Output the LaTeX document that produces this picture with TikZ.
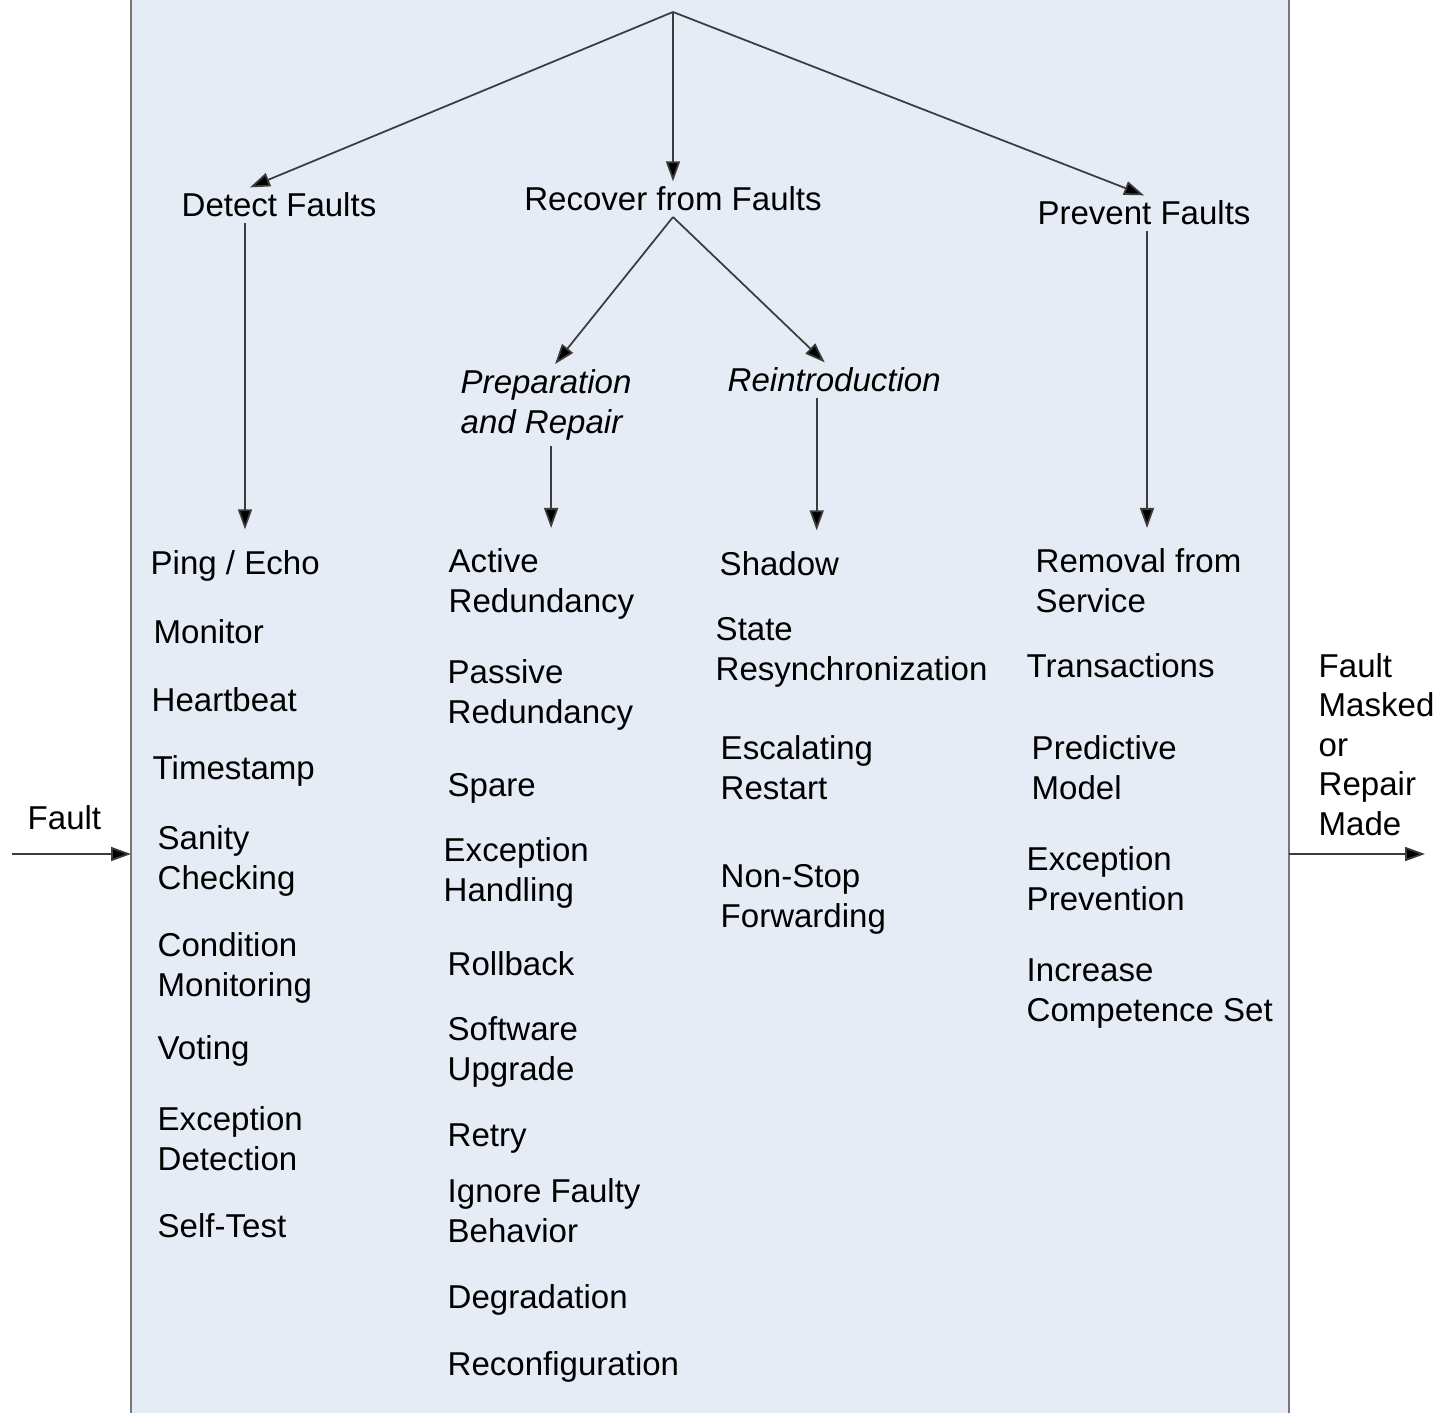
\documentclass[tikz,border=0pt]{standalone}
\usepackage{fontspec}
\setmainfont{Liberation Sans}
\usetikzlibrary{arrows.meta}

\definecolor{boxfill}{RGB}{230,236,245}
\definecolor{boxline}{RGB}{120,120,120}
\definecolor{linegray}{RGB}{60,60,60}

\tikzset{
    tactic/.style={anchor=base west, inner sep=0pt, align=left, font=\fontsize{9.4}{11.2}\selectfont},
    head/.style={anchor=base, inner sep=0.5mm, font=\fontsize{9.4}{11.2}\selectfont},
    subhead/.style={anchor=base west, inner sep=0.5mm, align=left, font=\fontsize{9.4}{11.2}\selectfont\itshape},
    tip/.style={draw=linegray, line width=0.5pt, -{Triangle[length=2mm,width=1.4mm,fill=black]}},
}

\begin{document}
\begin{tikzpicture}

    % 画像の範囲
    \useasboundingbox (0,0) rectangle (14.41,-14.12);
    \clip (0,0) rectangle (14.41,-14.12);

    % 背景の枠
    \filldraw[fill=boxfill, draw=boxline, line width=0.6pt] (1.31,0.3) rectangle (12.89,-14.5);
    \coordinate (root) at (6.73,-0.12);

    % 見出し
    \node[head] (detect) at (2.79,-2.17) {Detect Faults};
    \node[head] (recover) at (6.73,-2.11) {Recover from Faults};
    \node[head] (prevent) at (11.44,-2.25) {Prevent Faults};
    \node[subhead] (prep) at (4.55,-4.33) {Preparation\\and Repair};
    \node[subhead] (reint) at (7.22,-3.92) {Reintroduction};

    % 各列の戦術（x, 最終行のベースライン y）
    \foreach \nm/\x/\y/\txt in {
        ping/1.50/5.74/{Ping / Echo}, monitor/1.53/6.43/{Monitor},
        heartbeat/1.51/7.11/{Heartbeat}, timestamp/1.52/7.79/{Timestamp},
        sanity/1.57/8.89/{Sanity\\Checking}, condition/1.57/9.96/{Condition\\Monitoring},
        voting/1.57/10.59/{Voting}, excdetect/1.57/11.70/{Exception\\Detection},
        selftest/1.57/12.37/{Self-Test}} {
        \node[tactic] (\nm) at (\x,-\y) {\txt};
    }
    \foreach \nm/\x/\y/\txt in {
        active/4.48/6.12/{Active\\Redundancy}, passive/4.47/7.23/{Passive\\Redundancy},
        spare/4.47/7.96/{Spare}, exchandle/4.43/9.01/{Exception\\Handling},
        rollback/4.47/9.75/{Rollback}, upgrade/4.47/10.80/{Software\\Upgrade},
        retry/4.47/11.46/{Retry}, ignore/4.47/12.42/{Ignore Faulty\\Behavior},
        degrade/4.47/13.08/{Degradation}, reconfig/4.47/13.75/{Reconfiguration}} {
        \node[tactic] (\nm) at (\x,-\y) {\txt};
    }
    \foreach \nm/\x/\y/\txt in {
        shadow/7.19/5.75/{Shadow}, resync/7.15/6.80/{State\\Resynchronization},
        restart/7.20/7.99/{Escalating\\Restart}, nonstop/7.20/9.27/{Non-Stop\\Forwarding}} {
        \node[tactic] (\nm) at (\x,-\y) {\txt};
    }
    \foreach \nm/\x/\y/\txt in {
        removal/10.35/6.12/{Removal from\\Service}, transact/10.26/6.77/{Transactions},
        predict/10.31/7.99/{Predictive\\Model}, excprevent/10.26/9.10/{Exception\\Prevention},
        increase/10.26/10.21/{Increase\\Competence Set}} {
        \node[tactic] (\nm) at (\x,-\y) {\txt};
    }

    % 入力と出力
    \node[tactic] (fault) at (0.27,-8.29) {Fault};
    \node[tactic] (masked) at (13.18,-8.35) {Fault\\Masked\\or\\Repair\\Made};
    \coordinate (in) at (0.12,-8.54);
    \coordinate (boxin) at (1.31,-8.54);
    \coordinate (boxout) at (12.89,-8.54);
    \coordinate (out) at (14.25,-8.54);

    % 矢印
    \draw[tip] (root) -- ([xshift=-2.9mm]detect.north);
    \draw[tip] (root) -- (recover.north);
    \draw[tip] (root) -- (prevent.north);
    \draw[tip] (recover.south) -- ([xshift=0.9mm]prep.north);
    \draw[tip] (recover.south) -- ([xshift=-0.95mm]reint.north);

    \coordinate (dstart) at ([xshift=-3.4mm]detect.south);
    \coordinate (pstart) at ([xshift=0.5mm]prep.south);
    \coordinate (rstart) at ([xshift=-1.75mm]reint.south);
    \coordinate (vstart) at ([xshift=0.3mm]prevent.south);
    \draw[tip, shorten >=2mm] (dstart) -- (dstart |- ping.north);
    \draw[tip, shorten >=2mm] (pstart) -- (pstart |- active.north);
    \draw[tip, shorten >=2mm] (rstart) -- (rstart |- shadow.north);
    \draw[tip, shorten >=2mm] (vstart) -- (vstart |- removal.north);

    \draw[tip] (in) -- (boxin);
    \draw[tip] (boxout) -- (out);
    %
\end{tikzpicture}
\end{document}
